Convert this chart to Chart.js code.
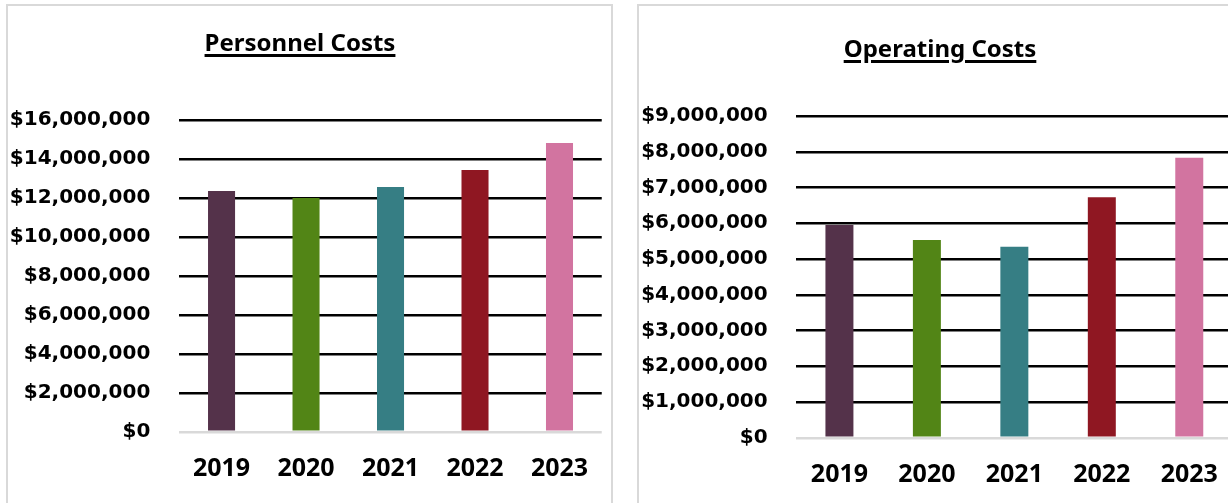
<!DOCTYPE html>
<html>
<head>
<meta charset="utf-8">
<title>Personnel and Operating Costs</title>
<script src="https://cdn.jsdelivr.net/npm/chart.js@4.4.1/dist/chart.umd.min.js"></script>
<style>
    body {
        margin: 0;
        width: 1228px;
        height: 503px;
        overflow: hidden;
        background: #ffffff;
        position: relative;
    }
    .panel {
        position: absolute;
        top: 4px;
        height: 540px;
        border: 2px solid #d9d9d9;
        box-sizing: border-box;
    }
    #personnel-panel { left: 6px; width: 607px; }
    #operating-panel { left: 637px; width: 660px; }
    .panel canvas { position: absolute; left: 0; top: 0; }
    .chart-title {
        position: absolute;
        width: 600px;
        text-align: center;
        font-family: "Noto Sans", sans-serif;
        font-weight: bold;
        font-size: 24px;
        line-height: 1;
        color: #000;
        text-decoration: underline;
        text-decoration-thickness: 2.5px;
        text-underline-offset: 3px;
    }
    #personnel-title { left: 0; top: 30px; }
    #operating-title { left: 640px; top: 36px; }
</style>
</head>
<body>
<div class="panel" id="personnel-panel"><canvas id="personnelChart" width="603" height="520"></canvas></div>
<div class="panel" id="operating-panel"><canvas id="operatingChart" width="650" height="520"></canvas></div>
<div class="chart-title" id="personnel-title">Personnel Costs</div>
<div class="chart-title" id="operating-title">Operating Costs</div>

<script>
    // Fiscal years and yearly totals (USD)
    const years = ["2019", "2020", "2021", "2022", "2023"];
    const personnelCosts = [12350000, 12000000, 12560000, 13430000, 14820000];
    const operatingCosts = [5950000, 5530000, 5340000, 6730000, 7830000];

    // Axis tick settings
    const personnelMax = 16000000;
    const personnelStep = 2000000;
    const operatingMax = 9000000;
    const operatingStep = 1000000;

    const barColors = ["#54324a", "#528516", "#367e84", "#8f1722", "#d274a0"];

    function dollars(value) {
        return "$" + Number(value).toLocaleString("en-US");
    }

    function buildChart(canvasId, values, max, step, box) {
        const ctx = document.getElementById(canvasId).getContext("2d");
        return new Chart(ctx, {
            type: "bar",
            data: {
                labels: years,
                datasets: [{
                    data: values,
                    backgroundColor: barColors,
                    borderWidth: 0,
                    categoryPercentage: 1,
                    barPercentage: 0.32
                }]
            },
            options: {
                responsive: false,
                animation: false,
                layout: {
                    padding: { top: box.top, right: box.right, left: 0, bottom: 0 }
                },
                plugins: {
                    legend: { display: false },
                    title: { display: false },
                    tooltip: { enabled: false }
                },
                scales: {
                    y: {
                        min: 0,
                        max: max,
                        afterFit: s => { s.width = box.axisWidth; },
                        border: { display: false },
                        grid: {
                            drawTicks: false,
                            lineWidth: 2.4,
                            color: c => (c.tick && c.tick.value === 0) ? "#d9d9d9" : "#000000"
                        },
                        ticks: {
                            stepSize: step,
                            padding: box.tickPad,
                            color: "#000000",
                            font: { family: "DejaVu Sans", weight: "bold", size: 20 },
                            callback: v => dollars(v)
                        }
                    },
                    x: {
                        afterFit: s => { s.height = box.xHeight; },
                        border: { display: false },
                        grid: { display: false, drawTicks: false },
                        ticks: {
                            padding: 22,
                            color: "#000000",
                            font: { family: "Noto Sans", weight: "bold", size: 25 }
                        }
                    }
                }
            }
        });
    }

    document.addEventListener("DOMContentLoaded", () => {
        buildChart("personnelChart", personnelCosts, personnelMax, personnelStep,
            { top: 114, right: 9, axisWidth: 171.3, tickPad: 29, xHeight: 94.3 });
        buildChart("operatingChart", operatingCosts, operatingMax, operatingStep,
            { top: 110, right: 56, axisWidth: 156.7, tickPad: 28, xHeight: 88.3 });
    });
</script>
</body>
</html>
